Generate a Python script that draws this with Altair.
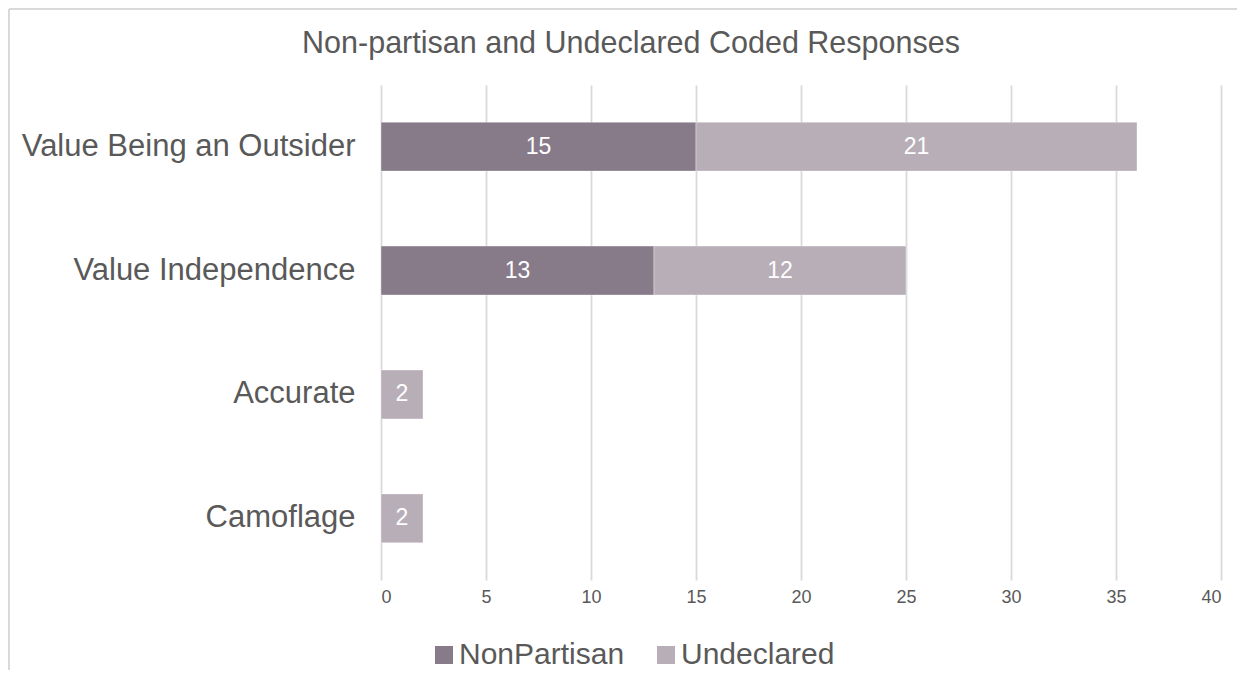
import altair as alt
import pandas as pd

categories = ["Value Being an Outsider", "Value Independence", "Accurate", "Camoflage"]
nonpartisan = [15, 13, 0, 0]
undeclared = [21, 12, 2, 2]
series = ["NonPartisan", "Undeclared"]
colors = ["#877B8A", "#B8AEB7"]
x_ticks = [0, 5, 10, 15, 20, 25, 30, 35, 40]
title_text = "Non-partisan and Undeclared Coded Responses"

rows = []
for i, c in enumerate(categories):
    rows.append({"cat": c, "series": series[0], "count": nonpartisan[i], "order": 0})
    rows.append({"cat": c, "series": series[1], "count": undeclared[i], "order": 1})
df = pd.DataFrame(rows)

FONT = "Liberation Sans"

base = alt.Chart(df).transform_stack(
    stack="count", groupby=["cat"], as_=["x0", "x1"],
    sort=[alt.SortField("order", order="ascending")]
)

y_enc = alt.Y("cat:N", sort=categories, title=None,
              scale=alt.Scale(paddingInner=0.605, paddingOuter=0.3),
              axis=alt.Axis(ticks=False, domain=False, grid=False,
                            labelFontSize=31, labelColor="#595959", labelFont=FONT,
                            labelPadding=26, labelLimit=400))

bars = base.mark_bar(stroke="#ffffff", strokeWidth=0.6, strokeOpacity=0.6).encode(
    x=alt.X("x0:Q", title=None, scale=alt.Scale(domain=[0, 40], nice=False),
            axis=alt.Axis(values=x_ticks, ticks=False, domain=False, grid=True,
                          gridColor="#d9d9d9", gridWidth=1.8,
                          labelFontSize=18, labelColor="#595959", labelFont=FONT,
                          labelPadding=8)),
    x2="x1:Q",
    y=y_enc,
    color=alt.Color("series:N", scale=alt.Scale(domain=series, range=colors),
                    sort=series,
                    legend=alt.Legend(title=None, orient="none", direction="horizontal",
                                      legendX=48, legendY=555,
                                      symbolType="square", symbolSize=324,
                                      symbolStrokeWidth=0,
                                      labelFontSize=30, labelColor="#595959",
                                      labelFont=FONT, labelOffset=0, labelLimit=400,
                                      columnPadding=26)),
)

labels = base.transform_filter(alt.datum.count > 0).transform_calculate(
    mid="(datum.x0 + datum.x1) / 2"
).mark_text(color="white", fontSize=23, font=FONT, baseline="middle", align="center").encode(
    x="mid:Q",
    y=alt.Y("cat:N", sort=categories),
    text="count:Q",
)

frame_df = alt.Data(values=[{"k": 1}])
left_border = alt.Chart(frame_df).mark_rule(color="#d9d9d9", strokeWidth=2).encode(
    x=alt.value(-372), y=alt.value(-76), y2=alt.value(610))
top_border = alt.Chart(frame_df).mark_rule(color="#d9d9d9", strokeWidth=2).encode(
    x=alt.value(-372), x2=alt.value(880), y=alt.value(-76))
title = alt.Chart(frame_df).mark_text(
    fontSize=30.5, font=FONT, color="#595959", align="center", baseline="alphabetic"
).encode(x=alt.value(250), y=alt.value(-32), text=alt.value(title_text))

chart = alt.layer(bars, labels, left_border, top_border, title).properties(
    width=840, height=495,
    padding={"left": 373, "top": 77, "right": 16, "bottom": 90},
    autosize=alt.AutoSizeParams(type="none"),
).configure_view(stroke=None)

chart.save("out.html", embed_options={"renderer": "svg", "actions": False})
